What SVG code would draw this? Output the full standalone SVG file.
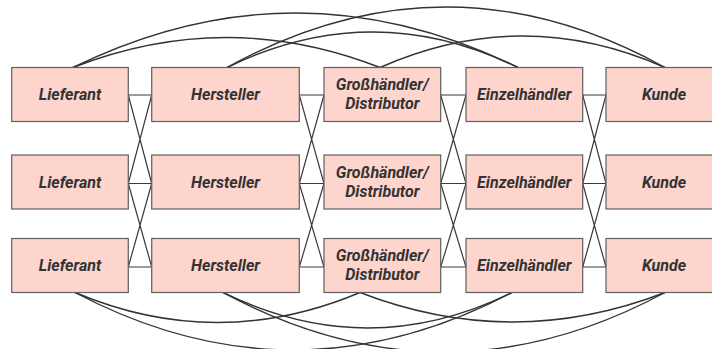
<svg xmlns="http://www.w3.org/2000/svg" width="712" height="349" viewBox="0 0 712 349">
<style>
.box{fill:#fdd5cc;stroke:#606060;stroke-width:1.2}
.lbl{font-family:Roboto,"Liberation Sans",sans-serif;font-weight:bold;font-style:italic;font-size:16px;fill:#333;text-anchor:middle}
.c{fill:none;stroke:#3a3a3a;stroke-width:1.2}
.a{fill:none;stroke:#333;stroke-width:1.4}
</style>
<rect width="712" height="349" fill="#fff"/>
<g id="connectors">
  <g id="links">
    <path class="c" d="M128.3,95H151.7M128.3,183.5H151.7M128.3,267H151.7M128.3,95L151.7,183.5M151.7,95L128.3,183.5M128.3,183.5L151.7,267M151.7,183.5L128.3,267"/>
    <path class="c" d="M299.3,95H324M299.3,183.5H324M299.3,267H324M299.3,95L324,183.5M324,95L299.3,183.5M299.3,183.5L324,267M324,183.5L299.3,267"/>
    <path class="c" d="M440.7,95H466M440.7,183.5H466M440.7,267H466M440.7,95L466,183.5M466,95L440.7,183.5M440.7,183.5L466,267M466,183.5L440.7,267"/>
    <path class="c" d="M582.7,95H606M582.7,183.5H606M582.7,267H606M582.7,95L606,183.5M606,95L582.7,183.5M582.7,183.5L606,267M606,183.5L582.7,267"/>
  </g>
  <g id="top-arcs">
    <path class="a" d="M73,67.5C175.3,27.5 277.7,27.5 380,67.5"/>
    <path class="a" d="M73,67.5C221.3,-5.2 369.7,-5.2 518,67.5"/>
    <path class="a" d="M227,67.5C324,20.2 421,20.2 518,67.5"/>
    <path class="a" d="M227,67.5C373,-13.2 519,-13.2 665,67.5"/>
    <path class="a" d="M380,67.5C475,25.5 570,25.5 665,67.5"/>
  </g>
  <g id="bottom-arcs">
    <path class="a" d="M75,292.5C170,332.5 265,332.5 360,292.5"/>
    <path class="a" d="M75,292.5C220.7,369.2 366.3,369.2 512,292.5"/>
    <path class="a" d="M223,292.5C319.3,339.8 415.7,339.8 512,292.5"/>
    <path class="a" d="M223,292.5C370.3,371.8 517.7,371.8 665,292.5"/>
    <path class="a" d="M360,292.5C461.7,331.8 563.3,331.8 665,292.5"/>
  </g>
</g>
<g id="lieferant-1"><rect class="box" x="11.7" y="67.5" width="116.6" height="54"/><text class="lbl" x="70" y="100">Lieferant</text></g>
<g id="hersteller-1"><rect class="box" x="151.7" y="67.5" width="147.6" height="54"/><text class="lbl" x="225.5" y="100">Hersteller</text></g>
<g id="grosshaendler-1"><rect class="box" x="324" y="67.5" width="116.7" height="54"/><text class="lbl" x="382.3" y="90">Großhändler/</text><text class="lbl" x="382.3" y="109">Distributor</text></g>
<g id="einzelhaendler-1"><rect class="box" x="466" y="67.5" width="116.7" height="54"/><text class="lbl" x="524.3" y="100">Einzelhändler</text></g>
<g id="kunde-1"><rect class="box" x="606" y="67.5" width="116" height="54"/><text class="lbl" x="664" y="100">Kunde</text></g>

<g id="lieferant-2"><rect class="box" x="11.7" y="155" width="116.6" height="54"/><text class="lbl" x="70" y="187.5">Lieferant</text></g>
<g id="hersteller-2"><rect class="box" x="151.7" y="155" width="147.6" height="54"/><text class="lbl" x="225.5" y="187.5">Hersteller</text></g>
<g id="grosshaendler-2"><rect class="box" x="324" y="155" width="116.7" height="54"/><text class="lbl" x="382.3" y="177.5">Großhändler/</text><text class="lbl" x="382.3" y="196.5">Distributor</text></g>
<g id="einzelhaendler-2"><rect class="box" x="466" y="155" width="116.7" height="54"/><text class="lbl" x="524.3" y="187.5">Einzelhändler</text></g>
<g id="kunde-2"><rect class="box" x="606" y="155" width="116" height="54"/><text class="lbl" x="664" y="187.5">Kunde</text></g>

<g id="lieferant-3"><rect class="box" x="11.7" y="238.5" width="116.6" height="54"/><text class="lbl" x="70" y="271">Lieferant</text></g>
<g id="hersteller-3"><rect class="box" x="151.7" y="238.5" width="147.6" height="54"/><text class="lbl" x="225.5" y="271">Hersteller</text></g>
<g id="grosshaendler-3"><rect class="box" x="324" y="238.5" width="116.7" height="54"/><text class="lbl" x="382.3" y="261">Großhändler/</text><text class="lbl" x="382.3" y="280">Distributor</text></g>
<g id="einzelhaendler-3"><rect class="box" x="466" y="238.5" width="116.7" height="54"/><text class="lbl" x="524.3" y="271">Einzelhändler</text></g>
<g id="kunde-3"><rect class="box" x="606" y="238.5" width="116" height="54"/><text class="lbl" x="664" y="271">Kunde</text></g>
</svg>
